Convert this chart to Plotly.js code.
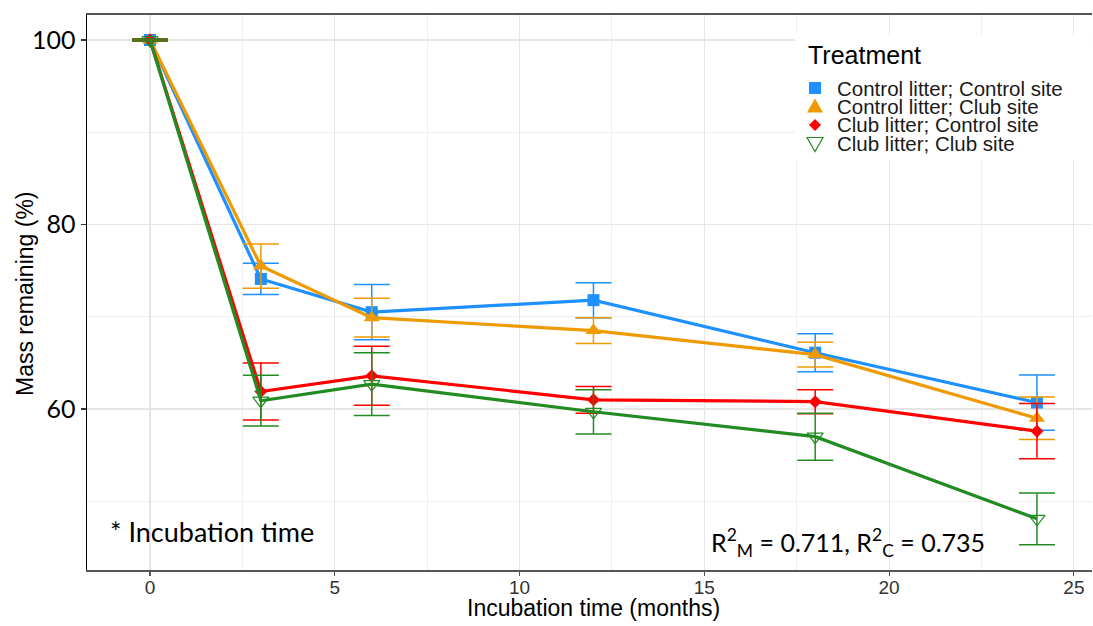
<!DOCTYPE html>
<html>
<head>
<meta charset="utf-8">
<script src="https://cdn.plot.ly/plotly-3.0.1.min.js"></script>
<style>
  html, body { margin: 0; padding: 0; background: #fff; }
  #chart { width: 1093px; height: 626px; }
</style>
</head>
<body>
<div id="chart"></div>
<script>
// Incubation times (months)
const months = [0, 3, 6, 12, 18, 24];

// Treatment labels
const treatments = [
  "Control litter; Control site",
  "Control litter; Club site",
  "Club litter; Control site",
  "Club litter; Club site"
];

// Mean mass remaining (%) and standard error per treatment
const ctrlLitterCtrlSite = [100, 74.1, 70.5, 71.8, 66.1, 60.7];
const ctrlLitterCtrlSiteSE = [0.1, 1.7, 3.0, 1.9, 2.05, 3.0];

const ctrlLitterClubSite = [100, 75.5, 69.9, 68.5, 65.9, 59.0];
const ctrlLitterClubSiteSE = [0.1, 2.4, 2.1, 1.4, 1.35, 2.3];

const clubLitterCtrlSite = [100, 61.9, 63.6, 61.0, 60.8, 57.6];
const clubLitterCtrlSiteSE = [0.1, 3.1, 3.2, 1.45, 1.3, 3.0];

const clubLitterClubSite = [100, 60.9, 62.7, 59.7, 57.0, 48.1];
const clubLitterClubSiteSE = [0.1, 2.75, 3.4, 2.4, 2.55, 2.8];

const means = [ctrlLitterCtrlSite, ctrlLitterClubSite, clubLitterCtrlSite, clubLitterClubSite];
const ses = [ctrlLitterCtrlSiteSE, ctrlLitterClubSiteSE, clubLitterCtrlSiteSE, clubLitterClubSiteSE];

const colors = ["#1E90FF", "#EE9A00", "#FF0000", "#228B22"];
const symbols = ["square", "triangle-up", "diamond", "triangle-down-open"];
const markerSizes = [12, 14, 10, 14];

const traces = treatments.map((name, i) => ({
  type: "scatter",
  mode: "lines+markers",
  name: name,
  x: months,
  y: means[i],
  showlegend: false,
  line: { color: colors[i], width: 3.2 },
  marker: {
    color: colors[i],
    symbol: symbols[i],
    size: markerSizes[i],
    line: { color: colors[i], width: symbols[i].endsWith("open") ? 1.2 : 0 }
  },
  error_y: {
    type: "data",
    array: ses[i],
    visible: true,
    color: colors[i],
    thickness: 1.5,
    width: 18
  }
}));

// Plot-area geometry in pixels, used to place the legend block and titles
const L = 87, R = 1092, T = 15, B = 570;
const px = v => (v - L) / (R - L);
const py = v => (B - v) / (B - T);

const legendRows = [88, 106.5, 125, 143.5];
const keyX = 815, textX = 835;

const shapes = [
  // white legend panel
  { type: "rect", xref: "paper", yref: "paper", layer: "above",
    x0: px(795), x1: px(1091), y0: py(160), y1: py(35),
    fillcolor: "#ffffff", line: { width: 0 } }
];

const keyPaths = [
  "M -6,-6 L 6,-6 L 6,6 L -6,6 Z",
  "M -8,-6 L 8,-6 L 0,8 Z",
  "M 0,-6 L 6,0 L 0,6 L -6,0 Z",
  "M -8,6 L 8,6 L 0,-8 Z"
];
treatments.forEach((name, i) => {
  const open = symbols[i].endsWith("open");
  shapes.push({
    type: "path", layer: "above",
    xref: "paper", yref: "paper",
    xsizemode: "pixel", ysizemode: "pixel",
    xanchor: px(keyX), yanchor: py(legendRows[i]),
    path: keyPaths[i],
    fillcolor: open ? "rgba(0,0,0,0)" : colors[i],
    line: { color: colors[i], width: open ? 1.2 : 0 }
  });
});

const sans = "Liberation Sans, Arial, sans-serif";

const annotations = [
  { xref: "paper", yref: "paper", x: px(806), y: py(55), xanchor: "left", yanchor: "middle",
    text: "Treatment", showarrow: false,
    font: { family: sans, size: 25, color: "#000" } },
  ...treatments.map((name, i) => ({
    xref: "paper", yref: "paper", x: px(textX), y: py(legendRows[i]),
    xanchor: "left", yanchor: "middle", text: name, showarrow: false,
    font: { family: sans, size: 20.5, color: "#1a1a1a" }
  })),
  { xref: "paper", yref: "paper", x: px(108), y: py(531), xanchor: "left", yanchor: "middle",
    text: "* Incubation time", showarrow: false,
    font: { family: "Lato, sans-serif", size: 27, color: "#000" } },
  { xref: "paper", yref: "paper", x: px(848), y: py(542), xanchor: "center", yanchor: "middle",
    text: "R<sup>2</sup><sub>M</sub> = 0.711, R<sup>2</sup><sub>C</sub> = 0.735", showarrow: false,
    font: { family: "Lato, sans-serif", size: 25, color: "#000" } },
  // axis titles
  { xref: "paper", yref: "paper", x: px(593), y: py(608), xanchor: "center", yanchor: "middle",
    text: "Incubation time (months)", showarrow: false,
    font: { family: sans, size: 23, color: "#000" } },
  { xref: "paper", yref: "paper", x: px(25), y: py(294), xanchor: "center", yanchor: "middle",
    textangle: -90, text: "Mass remaining (%)", showarrow: false,
    font: { family: sans, size: 23, color: "#000" } }
];

const layout = {
  width: 1093,
  height: 626,
  margin: { l: L, r: 1093 - R, t: T, b: 626 - B, pad: 0 },
  paper_bgcolor: "#ffffff",
  plot_bgcolor: "#ffffff",
  showlegend: false,
  xaxis: {
    range: [-1.705, 25.49],
    tick0: 0, dtick: 5,
    showgrid: true, gridcolor: "#e6e6e6", gridwidth: 1.2,
    minor: { dtick: 2.5, showgrid: true, gridcolor: "#efefef", gridwidth: 1 },
    zeroline: false,
    showline: true, linecolor: "#555555", linewidth: 2, mirror: true,
    ticks: "outside", ticklen: 4, tickcolor: "#555555", tickwidth: 1.2,
    ticklabelstandoff: -5,
    tickfont: { family: sans, size: 19, color: "#333" }
  },
  yaxis: {
    range: [42.55, 102.71],
    tick0: 0, dtick: 20,
    showgrid: true, gridcolor: "#e6e6e6", gridwidth: 1.2,
    minor: { dtick: 10, showgrid: true, gridcolor: "#efefef", gridwidth: 1 },
    zeroline: false,
    showline: true, linecolor: "#000000", linewidth: 1.5,
    ticks: "outside", ticklen: 5, tickcolor: "#333333", tickwidth: 1.2,
    tickfont: { family: "Lato, sans-serif", size: 25, color: "#000" }
  },
  shapes: shapes,
  annotations: annotations
};

Plotly.newPlot("chart", traces, layout, { displayModeBar: false, staticPlot: true });
</script>
</body>
</html>
